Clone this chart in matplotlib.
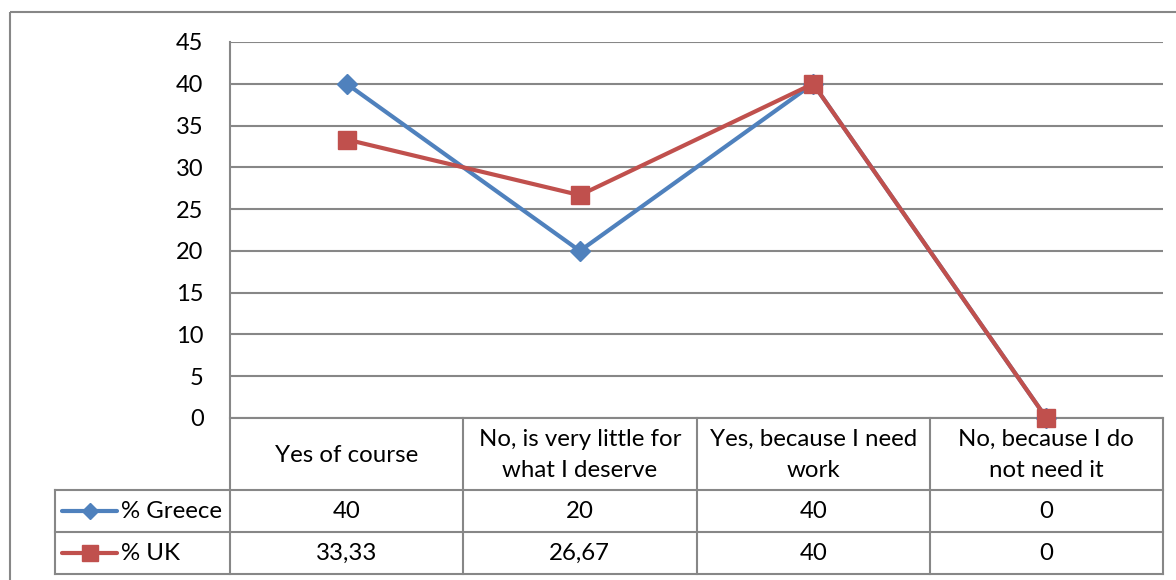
import numpy as np
import matplotlib.pyplot as plt
from matplotlib.patches import Rectangle

# data
categories = ['Yes of course', 'No, is very little for\nwhat I deserve',
              'Yes, because I need\nwork', 'No, because I do\nnot need it']
greece = [40, 20, 40, 0]
uk = [33.33, 26.67, 40, 0]
greece_txt = ['40', '20', '40', '0']
uk_txt = ['33,33', '26,67', '40', '0']
yticks = [0, 5, 10, 15, 20, 25, 30, 35, 40, 45]

blue = '#4F81BD'
red = '#C0504D'
grid_c = '#878787'
plt.rcParams['font.family'] = ['Lato', 'DejaVu Sans']

W, H = 1176, 580
fig = plt.figure(figsize=(W / 100, H / 100), dpi=100)

# pixel layout
left, right, top, bottom = 230, 1163, 42, 418
rows = [418, 490, 532, 574]
leg_left = 55

def fx(px):
    return px / W

def fy(py):
    return 1 - py / H

# main plot area
ax = fig.add_axes([fx(left), fy(bottom), fx(right) - fx(left), fy(top) - fy(bottom)])
x = np.arange(len(categories))
ax.plot(x, greece, color=blue, lw=3, marker='D', ms=10, zorder=3, clip_on=False)
ax.plot(x, uk, color=red, lw=3, marker='s', ms=13, zorder=4, clip_on=False)
ax.set_xlim(-0.5, len(categories) - 0.5)
ax.set_ylim(0, 45)
ax.set_yticks(yticks)
ax.set_xticks([])
ax.yaxis.grid(True, color=grid_c, lw=1.5)
ax.set_axisbelow(True)
for s in ax.spines.values():
    s.set_visible(False)
ax.tick_params(axis='y', length=0, pad=19, labelsize=17)
ax.patch.set_alpha(0)

# overlay for frame and table, pixel coordinates
ov = fig.add_axes([0, 0, 1, 1], zorder=-1)
ov.set_xlim(0, W)
ov.set_ylim(H, 0)
ov.axis('off')
ov.add_patch(Rectangle((10, 12), W + 20, H, fill=False, ec=grid_c, lw=1.5))

lk = dict(color=grid_c, lw=1.5)
ov.plot([left, left], [top, rows[-1]], **lk)
ov.plot([left, right], [rows[0], rows[0]], **lk)
for r in rows[1:]:
    ov.plot([leg_left, right], [r, r], **lk)
ov.plot([leg_left, leg_left], [rows[1], rows[-1]], **lk)
cw = (right - left) / len(categories)
for i in range(1, len(categories) + 1):
    xx = left + i * cw
    ov.plot([xx, xx], [rows[0], rows[-1]], **lk)

fs = 17.3
for i, cat in enumerate(categories):
    cx = left + (i + 0.5) * cw
    ov.text(cx, (rows[0] + rows[1]) / 2 + 1, cat, ha='center', va='center',
            fontsize=fs, linespacing=1.62)
    ov.text(cx, (rows[1] + rows[2]) / 2, greece_txt[i], ha='center', va='center', fontsize=fs)
    ov.text(cx, (rows[2] + rows[3]) / 2, uk_txt[i], ha='center', va='center', fontsize=fs)

# legend keys inside the table
series = [('% Greece', blue, 'D', 8), ('% UK', red, 's', 11)]
for k, (name, col, mk, ms) in enumerate(series):
    yy = (rows[k + 1] + rows[k + 2]) / 2
    ov.plot([62, 117], [yy, yy], color=col, lw=3, solid_capstyle='round')
    ov.plot([89.5], [yy], color=col, marker=mk, ms=ms, ls='none')
    ov.text(121, yy, name, ha='left', va='center', fontsize=fs)

fig.savefig('out.png', dpi=100)
